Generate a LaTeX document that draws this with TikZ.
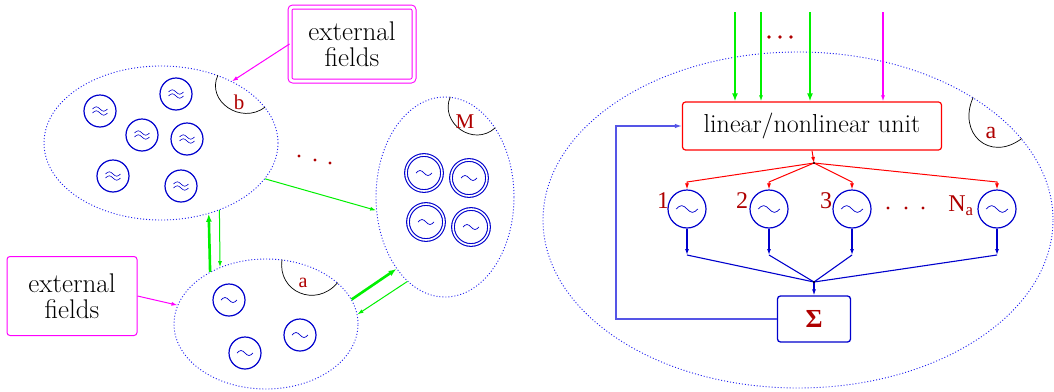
\documentclass[tikz,border=0pt]{standalone}
\usepackage{fontspec}
\newfontfamily\tms{Liberation Serif}
\usetikzlibrary{shapes.geometric,arrows.meta,calc}
\definecolor{oscblue}{RGB}{0,0,205}
\definecolor{dotblue}{RGB}{30,30,240}
\definecolor{lblred}{RGB}{175,0,0}
\definecolor{grn}{RGB}{0,240,0}
\definecolor{mag}{RGB}{255,0,255}
\definecolor{fbblue}{RGB}{85,85,230}
\begin{document}
\begin{tikzpicture}[x=1pt,y=-1pt,
  cluster/.style={ellipse,draw=dotblue,line width=0.9pt,dash pattern=on 1pt off 2pt,inner sep=0pt},
  osc/.style={circle,draw=oscblue,line width=1.2pt,minimum size=32pt,inner sep=0pt},
  bigosc/.style={circle,draw=oscblue,line width=1.2pt,minimum size=38pt,inner sep=0pt},
  dosc/.style={circle,draw=oscblue,double,double distance=1.6pt,line width=1.1pt,minimum size=36pt,inner sep=0pt},
  extbox/.style={draw=mag,rounded corners=3pt,line width=1pt,align=center,inner sep=0pt,
     font=\fontsize{27}{26}\selectfont},
  lbl/.style={text=lblred,inner sep=0pt,font=\tms\fontsize{21}{21}\selectfont},
  bump/.style={draw=black,line width=0.7pt},
  thinarrow/.style={line width=1pt,-{Latex[length=6pt,width=4pt]}},
  thickarrow/.style={line width=2.6pt,-{Latex[length=8pt,width=6pt]}},
  tilde/.pic={\draw[oscblue,line width=0.7pt] (-8,0) sin (-4,-2.5) cos (0,0) sin (4,2.5) cos (8,0);},
  dtilde/.pic={\draw[oscblue,line width=0.6pt] (-7.5,-2) sin (-3.75,-4.2) cos (0,-2) sin (3.75,0.2) cos (7.5,-2);
               \draw[oscblue,line width=0.6pt] (-7.5,2) sin (-3.75,-0.2) cos (0,2) sin (3.75,4.2) cos (7.5,2);}
]
\useasboundingbox (0,0) rectangle (1054,391);

% ---------------- left part ----------------
\node[cluster,minimum width=234pt,minimum height=154pt] (eb) at (161,143) {};
\node[cluster,minimum width=184pt,minimum height=130pt] (ea) at (266,324) {};
\node[cluster,minimum width=138pt,minimum height=200pt] (eM) at (445,197) {};

\node[extbox,double,double distance=3pt,minimum width=124pt,minimum height=74pt] (ext1) at (352,44) {external\\fields};
\node[extbox,minimum width=130pt,minimum height=79pt] (ext2) at (72,296) {external\\fields};

% oscillators in b
\foreach \n/\p in {b1/{(100,111)},b2/{(176,94)},b3/{(142,135)},b4/{(187,139)},b5/{(113,176)},b6/{(181,186)}}{
  \node[osc] (\n) at \p {};
  \pic at (\n.center) {dtilde};
}
% oscillators in a
\foreach \n/\p in {a1/{(229,300)},a2/{(300,335)},a3/{(245,353)}}{
  \node[osc] (\n) at \p {};
  \pic at (\n.center) {tilde};
}
% oscillators in M
\foreach \n/\p in {m1/{(424,173)},m2/{(469,178)},m3/{(426,222)},m4/{(471,227)}}{
  \node[dosc] (\n) at \p {};
  \pic at (\n.center) {tilde};
}

% label bumps
\draw[bump] (eb.50) .. controls ($(eb.50)+(-12,26)$) and ($(eb.19)+(-24,18)$) .. (eb.19);
\node[lbl] (lb) at (239,102) {b};
\draw[bump] (ea.76) .. controls ($(ea.76)+(-5,32)$) and ($(ea.30)+(-22,26)$) .. (ea.30);
\node[lbl,font=\tms\fontsize{20}{20}\selectfont] (la) at (303,283) {a};
\draw[bump] (eM.87) .. controls ($(eM.87)+(-11,26)$) and ($(eM.54)+(-22,20)$) .. (eM.54);
\node[lbl] (lM) at (465,122) {M};

% dots
\fill[lblred] (299,156) circle (1.6) (315,160) circle (1.6) (330,163) circle (1.6);

% connectors
\draw[mag,thinarrow] (ext1.west) -- (eb.41);
\draw[mag,thinarrow] (ext2.east) -- (ea.168);
\draw[grn,thinarrow] (eb.-19) -- (eM.191);
\draw[grn,thickarrow] (ea.137) -- (eb.-56);
\draw[grn,thinarrow] (eb.-49) -- (ea.129);
\draw[grn,thickarrow] (ea.16) -- (eM.236);
\draw[grn,thinarrow] (eM.246) -- (ea.6);

% ---------------- right part ----------------
\node[cluster,minimum width=510pt,minimum height=336pt] (big) at (798,220) {};
\draw[bump] (big.35) .. controls ($(big.35)+(-16,36)$) and ($(big.20)+(-32,24)$) .. (big.20);
\node[lbl,font=\tms\fontsize{24}{24}\selectfont] (lra) at (991,133) {a};

\node[draw=red,rounded corners=3pt,line width=1.2pt,minimum width=259pt,minimum height=48pt,
      font=\fontsize{26}{26}\selectfont,inner sep=0pt] (lnu) at (812,126) {linear/nonlinear unit};

\coordinate (in1) at (735,12);
\coordinate (in2) at (761,12);
\coordinate (in3) at (810,12);
\coordinate (in4) at (883,12);
\draw[grn,thickarrow] (in1) -- (in1 |- lnu.north);
\draw[grn,thinarrow,line width=1.4pt] (in2) -- (in2 |- lnu.north);
\draw[grn,thickarrow] (in3) -- (in3 |- lnu.north);
\draw[mag,thinarrow,line width=1.4pt] (in4) -- (in4 |- lnu.north);
\fill[lblred] (769,37) circle (1.8) (780,37) circle (1.8) (791,37) circle (1.8);

\foreach \n/\p in {o1/{(687,209)},o2/{(769,209)},o3/{(852,209)},o4/{(997,209)}}{
  \node[bigosc] (\n) at \p {};
  \pic[scale=1.35] at (\n.center) {tilde};
}
\node[lbl,font=\tms\fontsize{24}{24}\selectfont] (l1) at (663,201) {1};
\node[lbl,font=\tms\fontsize{24}{24}\selectfont] (l2) at (742,201) {2};
\node[lbl,font=\tms\fontsize{24}{24}\selectfont] (l3) at (826,201) {3};
\node[lbl,font=\tms\fontsize{24}{24}\selectfont] (lN) at (961,206) {N\textsubscript{a}};
\fill[lblred] (888,208) circle (1.6) (906,208) circle (1.6) (923,208) circle (1.6);

\node[draw=oscblue,rounded corners=3pt,line width=1.3pt,minimum width=73pt,minimum height=46pt,inner sep=0pt,
      text=lblred,font=\tms\bfseries\fontsize{26}{26}\selectfont] (sig) at (814,319) {Σ};

\coordinate (rj) at (814,163);
\coordinate (rl) at (0,182);
\coordinate (bl) at (0,255);
\coordinate (bj) at (814,282);
\coordinate (fb) at (616,0);

\draw[red,line width=1pt,-{Latex[length=6pt,width=4pt]}] (lnu.south) -- (rj);
\foreach \o in {o1,o2,o3,o4}{
  \draw[red,line width=1pt,-{Latex[length=6pt,width=4pt]}] (rj) -- (\o.north |- rl) -- (\o.north);
  \draw[oscblue,line width=1.1pt,-{Latex[length=6pt,width=4pt]}] (\o.south) -- (\o.south |- bl);
  \draw[oscblue,line width=1.1pt] (\o.south |- bl) -- (bj);
}
\draw[oscblue,line width=1.1pt,-{Latex[length=6pt,width=4pt]}] (bj) -- (sig.north);
\fill (rj) circle (1.2);
\fill (bj) circle (1.2);
\draw[fbblue,line width=1.2pt,-{Latex[length=7pt,width=4.5pt]}] (sig.west) -- (fb |- sig.west) -- (fb |- lnu.west) -- (lnu.west);
\end{tikzpicture}
\end{document}
